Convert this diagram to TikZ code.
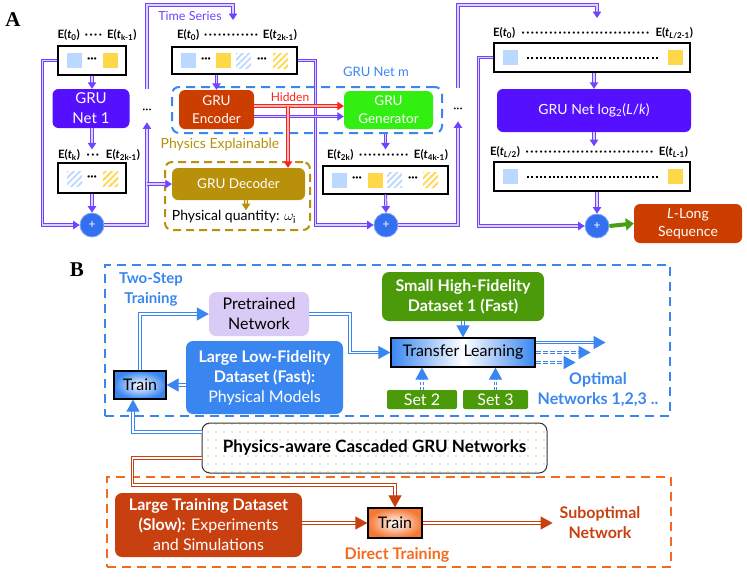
\documentclass[tikz,border=0pt]{standalone}
\usepackage{fontspec}
\setmainfont{Lato}
\newfontfamily\panelfont{Liberation Serif}
\usepackage{amsmath}
\usetikzlibrary{arrows.meta,patterns.meta}

\definecolor{netpurple}{HTML}{5511FF}
\definecolor{linepurple}{HTML}{7044FF}
\definecolor{lav}{HTML}{DCD0FF}
\definecolor{plusblue}{HTML}{3370F0}
\definecolor{encred}{HTML}{CC3D00}
\definecolor{gengreen}{HTML}{33EE11}
\definecolor{decgold}{HTML}{B8900A}
\definecolor{netblue}{HTML}{3A86F0}
\definecolor{setgreen}{HTML}{4A9A0A}
\definecolor{darkorange}{HTML}{C84010}
\definecolor{dashorange}{HTML}{F46A1F}
\definecolor{sqblue}{HTML}{BBD8FF}
\definecolor{sqyellow}{HTML}{FFD84A}
\definecolor{pretrain}{HTML}{DACBF6}
\definecolor{hidred}{HTML}{FF2020}
\definecolor{arrowgreen}{HTML}{44A010}
\definecolor{dotgreen}{HTML}{78BA40}

\newcommand{\evt}[1]{E(\textit{t}\textsubscript{#1})}
\newcommand{\seqlabel}[3]{\hbox to #1{#2\hskip4pt\cleaders\hbox to 4.6pt{\hss·\hss}\hfill\hskip4pt#3}}

\tikzset{
  seqbox/.style={draw=black, line width=1.2pt, fill=white, inner sep=0pt},
  seqdots/.style={inner sep=0pt, font=\bfseries\fontsize{12}{12}\selectfont},
  seqlbl/.style={inner sep=0pt, font=\bfseries\fontsize{11.5}{13}\selectfont},
  gnet/.style={rounded corners=6pt, text=white, align=center, inner sep=0pt},
  plusnode/.style={circle, fill=plusblue, draw=plusblue!60, line width=0.8pt,
    minimum size=24pt, inner sep=0pt, text=white, font=\fontsize{12}{12}\selectfont},
  pline/.style={draw=linepurple, line width=0.9pt, double=lav, double distance=1.3pt},
  hline/.style={draw=hidred, line width=0.9pt, double=hidred!30, double distance=1.3pt},
  gline/.style={draw=decgold, line width=0.9pt, double=decgold!30, double distance=1.3pt},
  bline/.style={draw=netblue, line width=1pt, double=white, double distance=1.6pt},
  oline/.style={draw=darkorange, line width=1pt, double=white, double distance=1.6pt},
  dashbox/.style={draw=#1, line width=2.5pt, dash pattern=on 9pt off 6pt, inner sep=0pt},
  blbl/.style={inner sep=0pt, align=center, font=\bfseries\fontsize{16}{20}\selectfont},
  bbox/.style={rounded corners=7pt, align=center, inner sep=0pt, font=\fontsize{16}{20}\selectfont},
  trainbox/.style={draw=black, line width=1.2pt, inner sep=0pt, font=\fontsize{16}{20}\selectfont},
  panellbl/.style={inner sep=0pt, font=\panelfont\bfseries\fontsize{21}{21}\selectfont}
}

\begin{document}
\begin{tikzpicture}[x=1pt,y=-1pt,>={Triangle[length=6.5pt,width=8.5pt]}]
\useasboundingbox (0,0) rectangle (747,576);

% A: first net
\node[panellbl] (lblA) at (13,20) {A};
\node[seqlbl] (lblA0) at (97,35) {\seqlabel{79pt}{\evt{0}}{\evt{k-1}}};
\node[seqbox, minimum width=68pt, minimum height=29pt] (seqA) at (92,60.5) {};
\fill[sqblue] (67,53) rectangle (82,68);
\fill[sqyellow] (103,53) rectangle (118,68);
\node[seqdots] (dA) at (92,60) {···};
\node[gnet, fill=netpurple, minimum width=77pt, minimum height=39pt,
  font=\fontsize{15}{20}\selectfont] (netA) at (91,108.5) {GRU\\Net 1};
\node[seqlbl] (lblA1) at (99,155) {\seqlabel{82pt}{\evt{k}}{\evt{2k-1}}};
\node[seqbox, minimum width=68pt, minimum height=30pt] (seqB) at (92,178) {};
\fill[pattern={Lines[angle=45,distance=4.5pt,line width=1.8pt]}, pattern color=sqblue] (67,171) rectangle (82,186);
\fill[pattern={Lines[angle=45,distance=4.5pt,line width=1.8pt]}, pattern color=sqyellow] (103,171) rectangle (118,186);
\node[seqdots] (dB) at (92,178) {···};
\node[plusnode] (plusA) at (92,225) {+};
\node[inner sep=0pt, font=\fontsize{12}{12}\selectfont] (dotsA) at (147,111) {···};

% A: net m
\node[inner sep=0pt, text=linepurple, font=\fontsize{12.5}{14}\selectfont] (ts) at (190,16) {Time Series};
\node[seqlbl] (lblC) at (237,35) {\seqlabel{120pt}{\evt{0}}{\evt{2k-1}}};
\node[seqbox, minimum width=125pt, minimum height=27pt] (seqC) at (234.5,60.5) {};
\fill[sqblue] (181,53) rectangle (196,68);
\fill[sqyellow] (216,53) rectangle (231,68);
\fill[pattern={Lines[angle=45,distance=4.5pt,line width=1.8pt]}, pattern color=sqblue] (236,53) rectangle (251,68);
\fill[pattern={Lines[angle=45,distance=4.5pt,line width=1.8pt]}, pattern color=sqyellow] (273,53) rectangle (288,68);
\node[seqdots] (dC1) at (206,60) {···};
\node[seqdots] (dC2) at (262,60) {···};
\node[dashbox=netblue, line width=2pt, rounded corners=7pt, minimum width=270pt, minimum height=46pt] (netm) at (307,110) {};
\node[inner sep=0pt, text=netblue, font=\fontsize{13}{14}\selectfont] (netmlbl) at (376,72) {GRU Net m};
\node[gnet, fill=encred, minimum width=75pt, minimum height=39pt,
  font=\fontsize{13.5}{18}\selectfont] (enc) at (216.5,109.5) {GRU\\Encoder};
\node[gnet, fill=gengreen, minimum width=89pt, minimum height=38pt,
  font=\fontsize{13.5}{18}\selectfont] (gen) at (388.5,110) {GRU\\Generator};
\node[inner sep=0pt, text=hidred, font=\fontsize{12}{14}\selectfont] (hid) at (290,97) {Hidden};
\node[inner sep=0pt, text=decgold, font=\fontsize{14}{16}\selectfont] (physlbl) at (220,145) {Physics Explainable};
\node[draw=decgold, line width=2pt, dash pattern=on 8pt off 5pt, rounded corners=7pt,
  minimum width=145pt, minimum height=68pt, inner sep=0pt] (physbox) at (237.5,196) {};
\node[gnet, fill=decgold, minimum width=133pt, minimum height=32pt,
  font=\fontsize{13.5}{16}\selectfont] (dec) at (238.5,184) {GRU Decoder};
\node[inner sep=0pt, font=\fontsize{14}{16}\selectfont] (qty) at (234,217) {Physical quantity: $\omega_{\mathrm{i}}$};
\node[seqlbl] (lblD) at (387.5,155) {\seqlabel{121pt}{\evt{2k}}{\evt{4k-1}}};
\node[seqbox, minimum width=125pt, minimum height=28pt] (seqD) at (385.5,180) {};
\fill[sqblue] (332,172.5) rectangle (347,187.5);
\fill[sqyellow] (368,172.5) rectangle (383,187.5);
\fill[pattern={Lines[angle=45,distance=4.5pt,line width=1.8pt]}, pattern color=sqblue] (387,172.5) rectangle (402,187.5);
\fill[pattern={Lines[angle=45,distance=4.5pt,line width=1.8pt]}, pattern color=sqyellow] (423,172.5) rectangle (438,187.5);
\node[seqdots] (dD1) at (357,179.5) {···};
\node[seqdots] (dD2) at (413,179.5) {···};
\node[plusnode] (plusB) at (386,225) {+};
\node[inner sep=0pt, font=\fontsize{12}{12}\selectfont] (dotsB) at (458,110) {···};

% A: last net
\node[seqlbl] (lblE) at (593,33) {\seqlabel{200pt}{\evt{0}}{\evt{\textit{L}/2-1}}};
\node[seqbox, minimum width=196pt, minimum height=29pt] (seqE) at (592,57.5) {};
\fill[sqblue] (503,50) rectangle (518,65);
\fill[sqyellow] (668,50) rectangle (683,65);
\draw[line width=2pt, dash pattern=on 2pt off 2.3pt] (527,57.5) -- (660,57.5);
\node[gnet, fill=netpurple, minimum width=194pt, minimum height=43pt,
  font=\fontsize{14}{16}\selectfont] (netE) at (594,110.5) {GRU Net log\textsubscript{2}(\textit{L}/\textit{k})};
\node[seqlbl] (lblF) at (589,152) {\seqlabel{198pt}{\evt{\textit{L}/2}}{\evt{\textit{L}-1}}};
\node[seqbox, minimum width=196pt, minimum height=29pt] (seqF) at (592,176.5) {};
\fill[sqblue] (503,169) rectangle (518,184);
\fill[sqyellow] (668,169) rectangle (683,184);
\draw[line width=2pt, dash pattern=on 2pt off 2.3pt] (527,176.5) -- (660,176.5);
\node[plusnode] (plusC) at (597,226) {+};
\node[gnet, fill=encred, minimum width=108pt, minimum height=39pt,
  font=\fontsize{14}{18}\selectfont] (lseq) at (688,223.5) {\textit{L}-Long\\Sequence};
\coordinate (tsin) at (233,20);
\coordinate (tsinE) at (597,18);

% A: connectors
\draw[pline,->] (seqA.south) -- (seqA.south |- netA.north);
\draw[pline,->] (seqA.south |- netA.south) -- (seqA.south |- lblA1.north);
\draw[pline,->] (seqB.south) -- (plusA.north);
\draw[pline,->] (seqA.west) -- ++(-15,0) |- (plusA.west);
\draw[pline,->,shorten >=9pt] (plusA.east) -| (dotsA.south);
\draw[pline,->] (dotsA.south |- dec.west) -- (dec.west);
\draw[pline,->,shorten <=20pt] (dotsA.north) -- (dotsA.north |- 0,5) -| (tsin);
\draw[pline,->] (enc.north |- seqC.south) -- (enc.north);
\draw[pline,->] (seqC.east) -- ++(18,0) |- (plusB.west);
\draw[pline,->] ([yshift=-7pt]enc.east) -- ([yshift=-7pt]enc.east -| gen.west);
\draw[hline,->] ([yshift=3.5pt]enc.east) -- ([yshift=3.5pt]enc.east -| gen.west);
\coordinate (hidB) at (288,106);
\draw[hline,->] (hidB) -- (hidB |- dec.north);
\draw[gline,->] (dec.south -| qty.north) ++(12,0) -- ++(0,10);
\draw[pline,->] (seqD.north |- netm.south) -- (seqD.north |- lblD.north);
\draw[pline,->] (seqD.south) -- (plusB.north);
\draw[pline,->,shorten >=9pt] (plusB.east) -| (dotsB.south);
\draw[pline,->,shorten <=20pt] (dotsB.north) -- (dotsB.north |- 0,5) -| (tsinE);
\draw[pline,->] (seqE.south -| netE.north) -- (netE.north);
\draw[pline,->] (netE.south) -- (netE.south |- lblF.north);
\draw[pline,->] (plusC.north |- seqF.south) -- (plusC.north);
\draw[pline,->] (seqE.west) -- ++(-15,0) |- (plusC.west);
\draw[arrowgreen, line width=4pt, -{Triangle[length=8pt,width=12pt]}] (plusC.east) -- (lseq.west);

% B: two-step training
\node[panellbl] (lblB) at (77,270) {B};
\node[dashbox=netblue, minimum width=565pt, minimum height=151pt] (twostep) at (387.5,340.5) {};
\node[blbl, text=netblue, font=\bfseries\fontsize{15}{20}\selectfont] (tslbl) at (151,289) {Two-Step\\Training};
\node[bbox, fill=pretrain, minimum width=100pt, minimum height=44pt] (pre) at (259,314) {Pretrained\\Network};
\node[trainbox, inner color=white, outer color=netblue, minimum width=52pt, minimum height=28pt] (trainT) at (140,385) {Train};
\node[bbox, fill=netblue, text=white, minimum width=157pt, minimum height=73pt] (lowfi) at (264.5,377.5)
  {\textbf{Large Low-Fidelity}\\\textbf{Dataset (Fast):}\\Physical Models};
\node[bbox, fill=setgreen, text=white, minimum width=162pt, minimum height=49pt] (smallhf) at (463,296.5)
  {\textbf{Small High-Fidelity}\\\textbf{Dataset 1 (Fast)}};
\node[trainbox, left color=netblue, right color=netblue, middle color=white,
  minimum width=144pt, minimum height=29pt] (tl) at (463,352.5) {Transfer Learning};
\node[bbox, rounded corners=2pt, fill=setgreen, text=white, minimum width=70pt, minimum height=19pt] (set2) at (422,399.5) {Set 2};
\node[bbox, rounded corners=2pt, fill=setgreen, text=white, minimum width=65pt, minimum height=19pt] (set3) at (495.5,399.5) {Set 3};
\node[blbl, text=netblue] (optlbl) at (598,390) {Optimal\\Networks 1,2,3 ..};

% B: shared network and direct training
\node[draw=black!80, line width=1pt, rounded corners=8pt, pattern={Dots[radius=0.7pt,distance=8pt]},
  pattern color=dotgreen, minimum width=345pt, minimum height=50pt, inner sep=0pt,
  font=\bfseries\fontsize{17}{20}\selectfont] (phys) at (374.5,448) {Physics-aware Cascaded GRU Networks};
\node[dashbox=dashorange, minimum width=564pt, minimum height=90pt] (direct) at (389,522) {};
\node[bbox, fill=darkorange, text=white, minimum width=187pt, minimum height=64pt] (ltd) at (208.5,525)
  {\textbf{Large Training Dataset}\\\textbf{(Slow):} Experiments\\and Simulations};
\node[trainbox, inner color=white, outer color=dashorange!90, minimum width=54pt, minimum height=30pt] (trainB) at (395,523) {Train};
\node[blbl, text=darkorange] (subopt) at (600,523) {Suboptimal\\Network};
\node[blbl, text=dashorange] (dirlbl) at (397,555) {Direct Training};

% B: connectors
\begin{scope}[>={Triangle[length=12pt,width=13pt]}]
\draw[bline,->] (trainT.north) |- (pre.west);
\draw[bline,->] (lowfi.west |- trainT.east) -- (trainT.east);
\draw[bline,->] (pre.east) -- ++(41,0) |- (tl.west);
\draw[bline,->] (smallhf.south) -- (tl.north);
\draw[bline,->,dash pattern=on 3pt off 2pt] (set2.north) -- (set2.north |- tl.south);
\draw[bline,->,dash pattern=on 3pt off 2pt] (set3.north) -- (set3.north |- tl.south);
\draw[bline,->] ([yshift=10pt]tl.east) -- ++(70,0);
\draw[bline,->,dash pattern=on 5pt off 2pt] (tl.east) -- ++(55,0);
\draw[bline,->,dash pattern=on 5pt off 2pt] ([yshift=-10pt]tl.east) -- ++(40,0);
\draw[bline,->] ([yshift=16pt]phys.west) -| ([xshift=-7pt]trainT.south);
\draw[oline,->] ([yshift=-10pt]phys.west) -- ++(-69,0) -- ++(0,27) -| (trainB.north);
\draw[oline,->] (ltd.east |- trainB.west) -- (trainB.west);
\draw[oline,->] (trainB.east) -- ++(130,0);
\end{scope}
\end{tikzpicture}
\end{document}
